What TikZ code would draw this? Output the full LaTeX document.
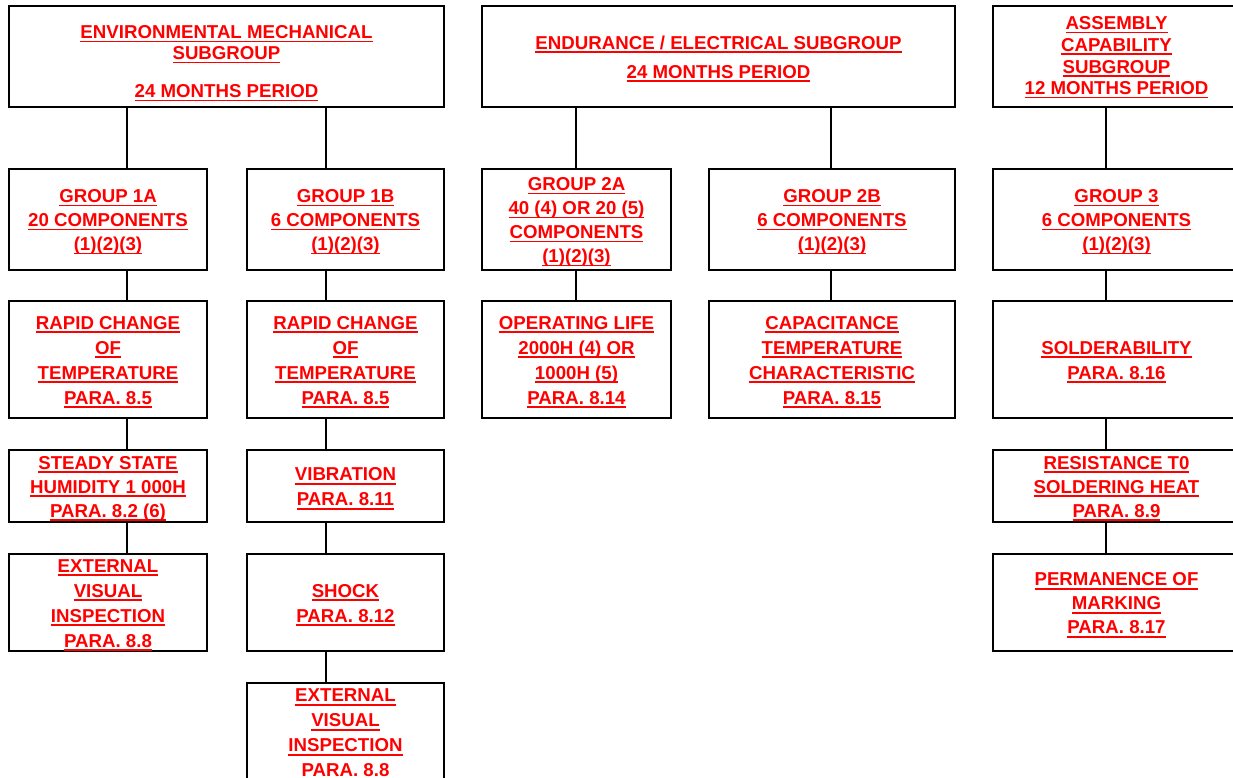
\documentclass[tikz,border=0pt]{standalone}
\usepackage{fontspec}
\setmainfont{Liberation Sans}[BoldFont={Liberation Sans Bold}]
\newsavebox{\uubox}
\newcommand{\uu}[1]{\sbox{\uubox}{#1}\rlap{\rule[-2.7pt]{\wd\uubox}{1.3pt}}\usebox{\uubox}}
\newcommand{\fst}[1][13.8pt]{\rule{0pt}{#1}}
\definecolor{txtred}{RGB}{255,0,0}
\begin{document}
\begin{tikzpicture}[x=0.75pt,y=-0.75pt,
  box/.style={draw, line width=1.7pt, inner sep=0pt, outer sep=0pt, align=center,
    text=txtred, font=\fontsize{14}{18.75}\selectfont\bfseries},
  sz/.style 2 args={minimum width=#1*0.75pt, minimum height=#2*0.75pt},
  link/.style={line width=1.7pt}]
\clip (0,0) rectangle (1233,778);
% top row
\node[box, sz={435}{101}] (EM) at (226.5,56.5)
  {\fst[20.5pt]\uu{ENVIRONMENTAL MECHANICAL}\\[-3pt]\uu{SUBGROUP}\\[9.75pt]\uu{24 MONTHS PERIOD}};
\node[box, sz={473}{101}] (EE) at (718.5,56.5)
  {\fst\uu{ENDURANCE / ELECTRICAL SUBGROUP}\\[3pt]\uu{24 MONTHS PERIOD}};
\node[box, sz={247}{101}] (AC) at (1116.5,56.5)
  {\fst[11.5pt]\uu{ASSEMBLY}\\[-2.5pt]\uu{CAPABILITY}\\[-2.5pt]\uu{SUBGROUP}\\[-2.5pt]\uu{12 MONTHS PERIOD}};
% group row
\node[box, sz={198}{101}] (G1A) at (108,219.5)
  {\fst\uu{GROUP 1A}\\[-0.75pt]\uu{20 COMPONENTS}\\[-0.75pt]\uu{(1)(2)(3)}};
\node[box, sz={197}{101}] (G1B) at (345.5,219.5)
  {\fst\uu{GROUP 1B}\\[-0.75pt]\uu{6 COMPONENTS}\\[-0.75pt]\uu{(1)(2)(3)}};
\node[box, sz={189}{101}] (G2A) at (576.5,219.5)
  {\fst\uu{GROUP 2A}\\[-0.75pt]\uu{40 (4) OR 20 (5)}\\[-0.75pt]\uu{COMPONENTS}\\[-0.75pt]\uu{(1)(2)(3)}};
\node[box, sz={246}{101}] (G2B) at (832,219.5)
  {\fst\uu{GROUP 2B}\\[-0.75pt]\uu{6 COMPONENTS}\\[-0.75pt]\uu{(1)(2)(3)}};
\node[box, sz={247}{101}] (G3) at (1116.5,219.5)
  {\fst\uu{GROUP 3}\\[-0.75pt]\uu{6 COMPONENTS}\\[-0.75pt]\uu{(1)(2)(3)}};
% third row
\node[box, sz={198}{117}] (R1A) at (108,359.5)
  {\fst\uu{RAPID CHANGE}\\\uu{OF}\\\uu{TEMPERATURE}\\\uu{PARA. 8.5}};
\node[box, sz={197}{117}] (R1B) at (345.5,359.5)
  {\fst\uu{RAPID CHANGE}\\\uu{OF}\\\uu{TEMPERATURE}\\\uu{PARA. 8.5}};
\node[box, sz={189}{117}] (OL) at (576.5,359.5)
  {\fst\uu{OPERATING LIFE}\\\uu{2000H (4) OR}\\\uu{1000H (5)}\\\uu{PARA. 8.14}};
\node[box, sz={246}{117}] (CT) at (832,359.5)
  {\fst\uu{CAPACITANCE}\\\uu{TEMPERATURE}\\\uu{CHARACTERISTIC}\\\uu{PARA. 8.15}};
\node[box, sz={247}{117}] (SOL) at (1116.5,359.5)
  {\fst\uu{SOLDERABILITY}\\\uu{PARA. 8.16}};
% fourth row
\node[box, sz={198}{72}] (SSH) at (108,486)
  {\fst\uu{STEADY STATE}\\[-0.75pt]\uu{HUMIDITY 1 000H}\\[-0.75pt]\uu{PARA. 8.2 (6)}};
\node[box, sz={197}{72}] (VIB) at (345.5,486)
  {\fst\uu{VIBRATION}\\\uu{PARA. 8.11}};
\node[box, sz={247}{72}] (RST) at (1116.5,486)
  {\fst\uu{RESISTANCE T0}\\[-0.75pt]\uu{SOLDERING HEAT}\\[-0.75pt]\uu{PARA. 8.9}};
% fifth row
\node[box, sz={198}{97}] (EV1) at (108,602.5)
  {\fst\uu{EXTERNAL}\\\uu{VISUAL}\\\uu{INSPECTION}\\\uu{PARA. 8.8}};
\node[box, sz={197}{97}] (SHK) at (345.5,602.5)
  {\fst\uu{SHOCK}\\\uu{PARA. 8.12}};
\node[box, sz={247}{97}] (PRM) at (1116.5,602.5)
  {\fst\uu{PERMANENCE OF}\\[-0.75pt]\uu{MARKING}\\[-0.75pt]\uu{PARA. 8.17}};
% sixth row
\node[box, sz={197}{98}] (EV2) at (345.5,732)
  {\fst\uu{EXTERNAL}\\\uu{VISUAL}\\\uu{INSPECTION}\\\uu{PARA. 8.8}};
% connector columns
\coordinate (c1) at (127,0);
\coordinate (c2) at (326,0);
\coordinate (c3) at (576,0);
\coordinate (c4) at (831,0);
\coordinate (c5) at (1106,0);
\draw[link] (EM.south -| c1) -- (G1A.north -| c1);
\draw[link] (EM.south -| c2) -- (G1B.north -| c2);
\draw[link] (EE.south -| c3) -- (G2A.north -| c3);
\draw[link] (EE.south -| c4) -- (G2B.north -| c4);
\draw[link] (AC.south -| c5) -- (G3.north -| c5);
\draw[link] (G1A.south -| c1) -- (R1A.north -| c1);
\draw[link] (R1A.south -| c1) -- (SSH.north -| c1);
\draw[link] (SSH.south -| c1) -- (EV1.north -| c1);
\draw[link] (G1B.south -| c2) -- (R1B.north -| c2);
\draw[link] (R1B.south -| c2) -- (VIB.north -| c2);
\draw[link] (VIB.south -| c2) -- (SHK.north -| c2);
\draw[link] (SHK.south -| c2) -- (EV2.north -| c2);
\draw[link] (G2A.south -| c3) -- (OL.north -| c3);
\draw[link] (G2B.south -| c4) -- (CT.north -| c4);
\draw[link] (G3.south -| c5) -- (SOL.north -| c5);
\draw[link] (SOL.south -| c5) -- (RST.north -| c5);
\draw[link] (RST.south -| c5) -- (PRM.north -| c5);
\end{tikzpicture}
\end{document}
